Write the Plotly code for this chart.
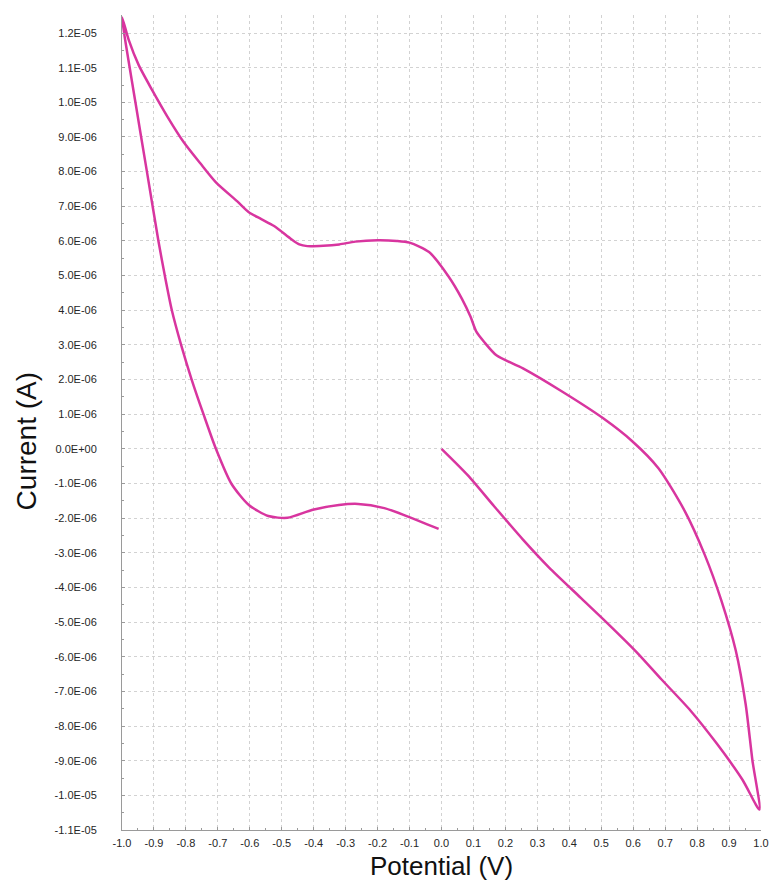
import plotly.graph_objects as go

# Cyclic voltammogram, traced in scan order (potential in V, current in µA)
potential = [0.0, 0.082, 0.164, 0.255, 0.336, 0.436, 0.518, 0.609, 0.688, 0.779, 0.861, 0.942, 0.995,
             0.973, 0.952, 0.921, 0.876, 0.824, 0.761, 0.679, 0.597, 0.506, 0.376, 0.255, 0.173,
             0.133, 0.109, 0.091, 0.064, 0.021, -0.039, -0.10, -0.14, -0.20, -0.27, -0.32, -0.37,
             -0.42, -0.445, -0.47, -0.524, -0.564, -0.603, -0.639, -0.706, -0.755, -0.806, -0.858,
             -0.906, -0.948, -0.979, -1.0,
             -0.958, -0.922, -0.886, -0.866, -0.844, -0.815, -0.782, -0.745, -0.706, -0.658,
             -0.603, -0.542, -0.482, -0.403, -0.321, -0.261, -0.179, -0.109, -0.009]
current_uA = [0.0, -0.76, -1.65, -2.62, -3.42, -4.30, -5.02, -5.85, -6.65, -7.55, -8.50, -9.55, -10.41,
              -8.98, -7.37, -5.82, -4.38, -3.06, -1.79, -0.56, 0.22, 0.88, 1.66, 2.32, 2.69,
              3.09, 3.38, 3.81, 4.33, 4.99, 5.68, 5.95, 6.00, 6.02, 5.98, 5.90, 5.86,
              5.85, 5.90, 6.05, 6.43, 6.63, 6.83, 7.14, 7.69, 8.24, 8.84, 9.59,
              10.36, 11.08, 11.80, 12.46,
              10.0, 8.0, 6.0, 5.0, 4.0, 3.0, 2.0, 1.0, 0.0, -1.0,
              -1.62, -1.94, -1.99, -1.76, -1.62, -1.59, -1.71, -1.94, -2.31]

x_ticks = [-1.0, -0.9, -0.8, -0.7, -0.6, -0.5, -0.4, -0.3, -0.2, -0.1, 0.0,
           0.1, 0.2, 0.3, 0.4, 0.5, 0.6, 0.7, 0.8, 0.9, 1.0]
x_tick_text = ["-1.0", "-0.9", "-0.8", "-0.7", "-0.6", "-0.5", "-0.4", "-0.3", "-0.2", "-0.1", "0.0",
               "0.1", "0.2", "0.3", "0.4", "0.5", "0.6", "0.7", "0.8", "0.9", "1.0"]
y_ticks_uA = [12, 11, 10, 9, 8, 7, 6, 5, 4, 3, 2, 1, 0, -1, -2, -3, -4, -5, -6, -7, -8, -9, -10, -11]
y_tick_text = ["1.2E-05", "1.1E-05", "1.0E-05", "9.0E-06", "8.0E-06", "7.0E-06", "6.0E-06", "5.0E-06",
               "4.0E-06", "3.0E-06", "2.0E-06", "1.0E-06", "0.0E+00", "-1.0E-06", "-2.0E-06",
               "-3.0E-06", "-4.0E-06", "-5.0E-06", "-6.0E-06", "-7.0E-06", "-8.0E-06", "-9.0E-06",
               "-1.0E-05", "-1.1E-05"]

current_A = [v * 1e-6 for v in current_uA]
y_ticks = [v * 1e-6 for v in y_ticks_uA]

fig = go.Figure()
fig.add_trace(go.Scatter(
    x=potential, y=current_A, mode="lines",
    line=dict(color="#D8359F", width=2.5, shape="spline", smoothing=0.7),
    showlegend=False, hoverinfo="skip",
))

tick_font = dict(family="Liberation Sans, Arial, sans-serif", size=11, color="#262626")

fig.update_xaxes(
    range=[-1.0, 1.0], tickvals=x_ticks, ticktext=x_tick_text, tickfont=tick_font,
    showgrid=True, gridcolor="#D2D2D2", griddash="dot", gridwidth=1,
    showline=True, linecolor="#9A9A9A", linewidth=1,
    ticks="inside", ticklen=3, tickcolor="#9A9A9A", ticklabelstandoff=3,
    minor=dict(dtick=0.05, tick0=0, ticks="inside", ticklen=2, tickcolor="#9A9A9A", showgrid=False),
    zeroline=False,
)
fig.update_yaxes(
    range=[-1.1e-5, 1.252e-5], tickvals=y_ticks, ticktext=y_tick_text, tickfont=tick_font,
    showgrid=True, gridcolor="#D2D2D2", griddash="dot", gridwidth=1,
    showline=True, linecolor="#9A9A9A", linewidth=1,
    ticks="inside", ticklen=3, tickcolor="#9A9A9A", ticklabelstandoff=22,
    minor=dict(dtick=0.5e-6, tick0=0, ticks="inside", ticklen=2, tickcolor="#9A9A9A", showgrid=False),
    zeroline=False,
)

fig.add_annotation(text="Potential (V)", xref="paper", yref="paper", x=0.50, y=-0.065,
                   xanchor="center", yanchor="bottom", showarrow=False,
                   font=dict(family="Liberation Sans, Arial, sans-serif", size=26, color="#111111"))
fig.add_annotation(text="Current (A)", xref="paper", yref="paper", x=-0.150, y=0.477,
                   xanchor="center", yanchor="middle", showarrow=False, textangle=-90,
                   font=dict(family="Liberation Sans, Arial, sans-serif", size=28, color="#111111"))

# The page body adds an 8 px margin, so the figure is sized to fit the 784x892 window exactly.
fig.update_layout(
    width=768, height=876,
    margin=dict(l=114, r=8, t=7, b=54),
    paper_bgcolor="white", plot_bgcolor="white",
)

fig.write_html("out.html")
